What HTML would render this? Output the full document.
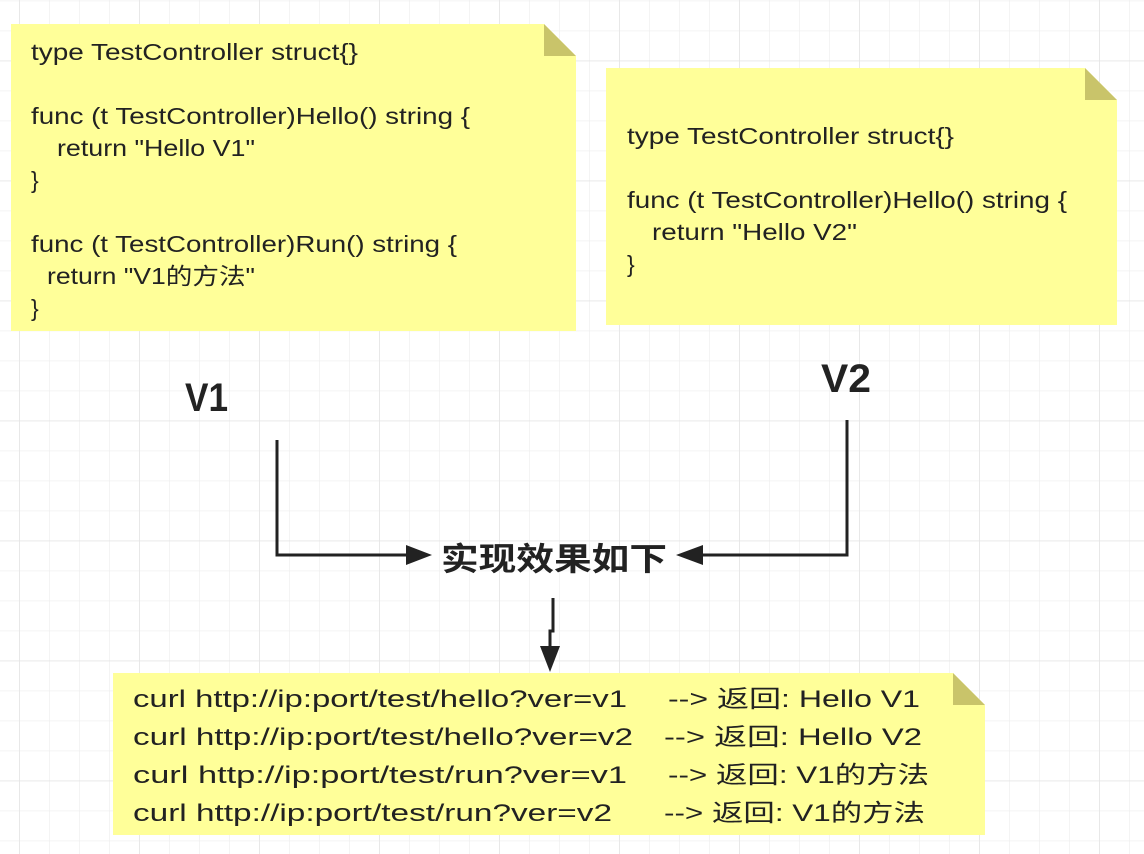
<!DOCTYPE html>
<html><head><meta charset="utf-8">
<style>
html,body{margin:0;padding:0;background:#fff;}
svg{display:block;}
text{font-family:"Liberation Sans","Noto Sans CJK SC",sans-serif;fill:#222;}
</style></head>
<body>
<svg width="1144" height="854" viewBox="0 0 1144 854" xmlns="http://www.w3.org/2000/svg">
<defs>
<pattern id="minor" x="19" y="0.5" width="30" height="30" patternUnits="userSpaceOnUse">
<path d="M0 0V30M0 0H30" stroke="#f0f0f0" stroke-width="1.5" fill="none"/>
</pattern>
<pattern id="major" x="19" y="60.5" width="120" height="120" patternUnits="userSpaceOnUse">
<path d="M0 0V120M0 0H120" stroke="#e4e4e4" stroke-width="1.5" fill="none"/>
</pattern>
</defs>
<rect width="1144" height="854" fill="#fff"/>
<rect width="1144" height="854" fill="url(#minor)"/>
<rect width="1144" height="854" fill="url(#major)"/>

<!-- Note 1 -->
<path d="M11 24H544L576 56V331H11Z" fill="#ffff99"/>
<path d="M544 24L576 56H544Z" fill="#c9c46a"/>
<g font-size="23">
<text x="31" y="60" textLength="327" lengthAdjust="spacingAndGlyphs">type TestController struct{}</text>
<text x="31" y="124" textLength="439" lengthAdjust="spacingAndGlyphs">func (t TestController)Hello() string {</text>
<text x="57" y="156" textLength="198" lengthAdjust="spacingAndGlyphs">return "Hello V1"</text>
<text x="31" y="188">}</text>
<text x="31" y="252" textLength="426" lengthAdjust="spacingAndGlyphs">func (t TestController)Run() string {</text>
<text x="47" y="284" textLength="208" lengthAdjust="spacingAndGlyphs">return "V1的方法"</text>
<text x="31" y="316">}</text>
</g>

<!-- Note 2 -->
<path d="M606 68H1085L1117 100V325H606Z" fill="#ffff99"/>
<path d="M1085 68L1117 100H1085Z" fill="#c9c46a"/>
<g font-size="23">
<text x="627" y="144" textLength="327" lengthAdjust="spacingAndGlyphs">type TestController struct{}</text>
<text x="627" y="208" textLength="440" lengthAdjust="spacingAndGlyphs">func (t TestController)Hello() string {</text>
<text x="652" y="240" textLength="205" lengthAdjust="spacingAndGlyphs">return "Hello V2"</text>
<text x="627" y="272">}</text>
</g>

<!-- Labels -->
<text x="185" y="411" font-size="40" font-weight="bold" textLength="43" lengthAdjust="spacingAndGlyphs">V1</text>
<text x="821" y="392" font-size="40" font-weight="bold" textLength="50" lengthAdjust="spacingAndGlyphs">V2</text>
<text x="441" y="570" font-size="32" font-weight="bold" textLength="226" lengthAdjust="spacingAndGlyphs">实现效果如下</text>

<!-- Connectors -->
<g stroke="#222" stroke-width="3" fill="none">
<path d="M277 440V555H412"/>
<path d="M847 420V555H700"/>
<path d="M553 598V631H550V648"/>
</g>
<path d="M432 555L406 545V565Z" fill="#222"/>
<path d="M676 555L703 545V565Z" fill="#222"/>
<path d="M550 672L540 646H560Z" fill="#222"/>

<!-- Note 3 -->
<path d="M113 673H953L985 705V835H113Z" fill="#ffff99"/>
<path d="M953 673L985 705H953Z" fill="#c9c46a"/>
<g font-size="24">
<text x="133" y="707" textLength="494" lengthAdjust="spacingAndGlyphs">curl http://ip:port/test/hello?ver=v1</text>
<text x="668" y="707" textLength="252" lengthAdjust="spacingAndGlyphs">--&gt; 返回: Hello V1</text>
<text x="133" y="745" textLength="500" lengthAdjust="spacingAndGlyphs">curl http://ip:port/test/hello?ver=v2</text>
<text x="664" y="745" textLength="258" lengthAdjust="spacingAndGlyphs">--&gt; 返回: Hello V2</text>
<text x="133" y="783" textLength="494" lengthAdjust="spacingAndGlyphs">curl http://ip:port/test/run?ver=v1</text>
<text x="668" y="783" textLength="261" lengthAdjust="spacingAndGlyphs">--&gt; 返回: V1的方法</text>
<text x="133" y="821" textLength="479" lengthAdjust="spacingAndGlyphs">curl http://ip:port/test/run?ver=v2</text>
<text x="664" y="821" textLength="261" lengthAdjust="spacingAndGlyphs">--&gt; 返回: V1的方法</text>
</g>
</svg>
</body></html>
